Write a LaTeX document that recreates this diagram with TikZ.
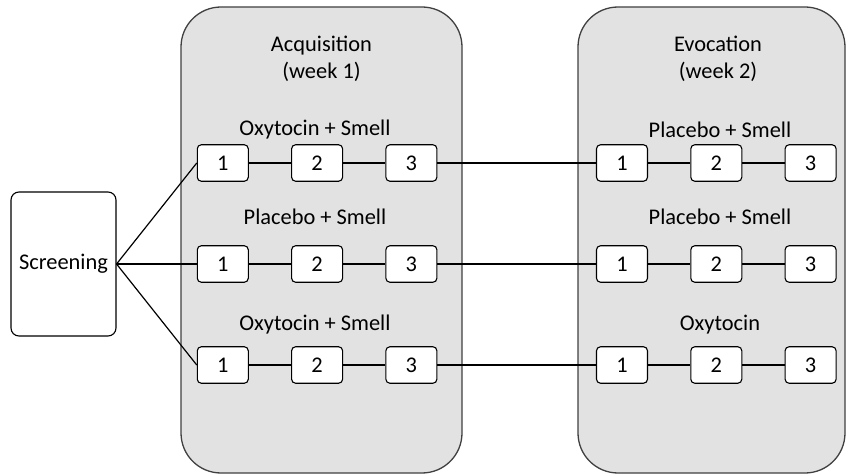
\documentclass[tikz,border=0pt]{standalone}
\usepackage{fontspec}
\setmainfont{Carlito}
\usetikzlibrary{positioning}
\definecolor{phasefill}{HTML}{E2E2E2}
\definecolor{phaseline}{HTML}{404040}

\begin{document}
\begin{tikzpicture}[x=1pt,y=-1pt,align=center,node distance=94.3pt,font=\fontsize{22.4}{27}\selectfont]
\tikzstyle{phase}=[draw=phaseline,fill=phasefill,line width=1.3pt,rounded corners=40pt,minimum height=466pt]
\tikzstyle{session}=[draw=black,fill=white,line width=1.1pt,rounded corners=4pt,minimum width=51pt,minimum height=36.5pt,inner sep=0pt]
\tikzstyle{screen}=[draw=black,fill=white,line width=1.1pt,rounded corners=8pt,minimum width=105pt,minimum height=144pt,inner sep=0pt]
\tikzstyle{link}=[line width=1.6pt]
\tikzstyle{split}=[line width=1.2pt]

\useasboundingbox (0,0) rectangle (847,476);

% phases
\node[phase,minimum width=281pt] (acq) at (321.5,240) {};
\node[phase,minimum width=267pt] (evo) at (711.5,240) {};
\node (acqtitle) at (321.5,59) {Acquisition\\(week 1)};
\node (evotitle) at (718,59) {Evocation\\(week 2)};

\node[screen] (scr) at (63.5,264) {Screening};

% week 1
\node (la1) at (315,130) {Oxytocin + Smell};
\node (la2) at (315,217) {Placebo + Smell};
\node (la3) at (315,325) {Oxytocin + Smell};

\node[session] (a11) at (222.8,163) {1};
\node[session] (a12) [right of = a11] {2};
\node[session] (a13) [right of = a12] {3};
\node[session] (a21) at (222.8,264) {1};
\node[session] (a22) [right of = a21] {2};
\node[session] (a23) [right of = a22] {3};
\node[session] (a31) at (222.8,365) {1};
\node[session] (a32) [right of = a31] {2};
\node[session] (a33) [right of = a32] {3};

% week 2
\node (le1) at (720,130) {Placebo + Smell};
\node (le2) at (720,217) {Placebo + Smell};
\node (le3) at (720,325) {Oxytocin};

\node[session] (e11) at (622,163) {1};
\node[session] (e12) [right of = e11] {2};
\node[session] (e13) [right of = e12] {3};
\node[session] (e21) at (622,264) {1};
\node[session] (e22) [right of = e21] {2};
\node[session] (e23) [right of = e22] {3};
\node[session] (e31) at (622,365) {1};
\node[session] (e32) [right of = e31] {2};
\node[session] (e33) [right of = e32] {3};

\path
  (scr.east) edge [split] (a11.west)
  (scr.east) edge [link] (a21.west)
  (scr.east) edge [split] (a31.west)
  (a11) edge [link] (a12)
  (a12) edge [link] (a13)
  (a13) edge [link] (e11)
  (e11) edge [link] (e12)
  (e12) edge [link] (e13)
  (a21) edge [link] (a22)
  (a22) edge [link] (a23)
  (a23) edge [link] (e21)
  (e21) edge [link] (e22)
  (e22) edge [link] (e23)
  (a31) edge [link] (a32)
  (a32) edge [link] (a33)
  (a33) edge [link] (e31)
  (e31) edge [link] (e32)
  (e32) edge [link] (e33);
\end{tikzpicture}
\end{document}
